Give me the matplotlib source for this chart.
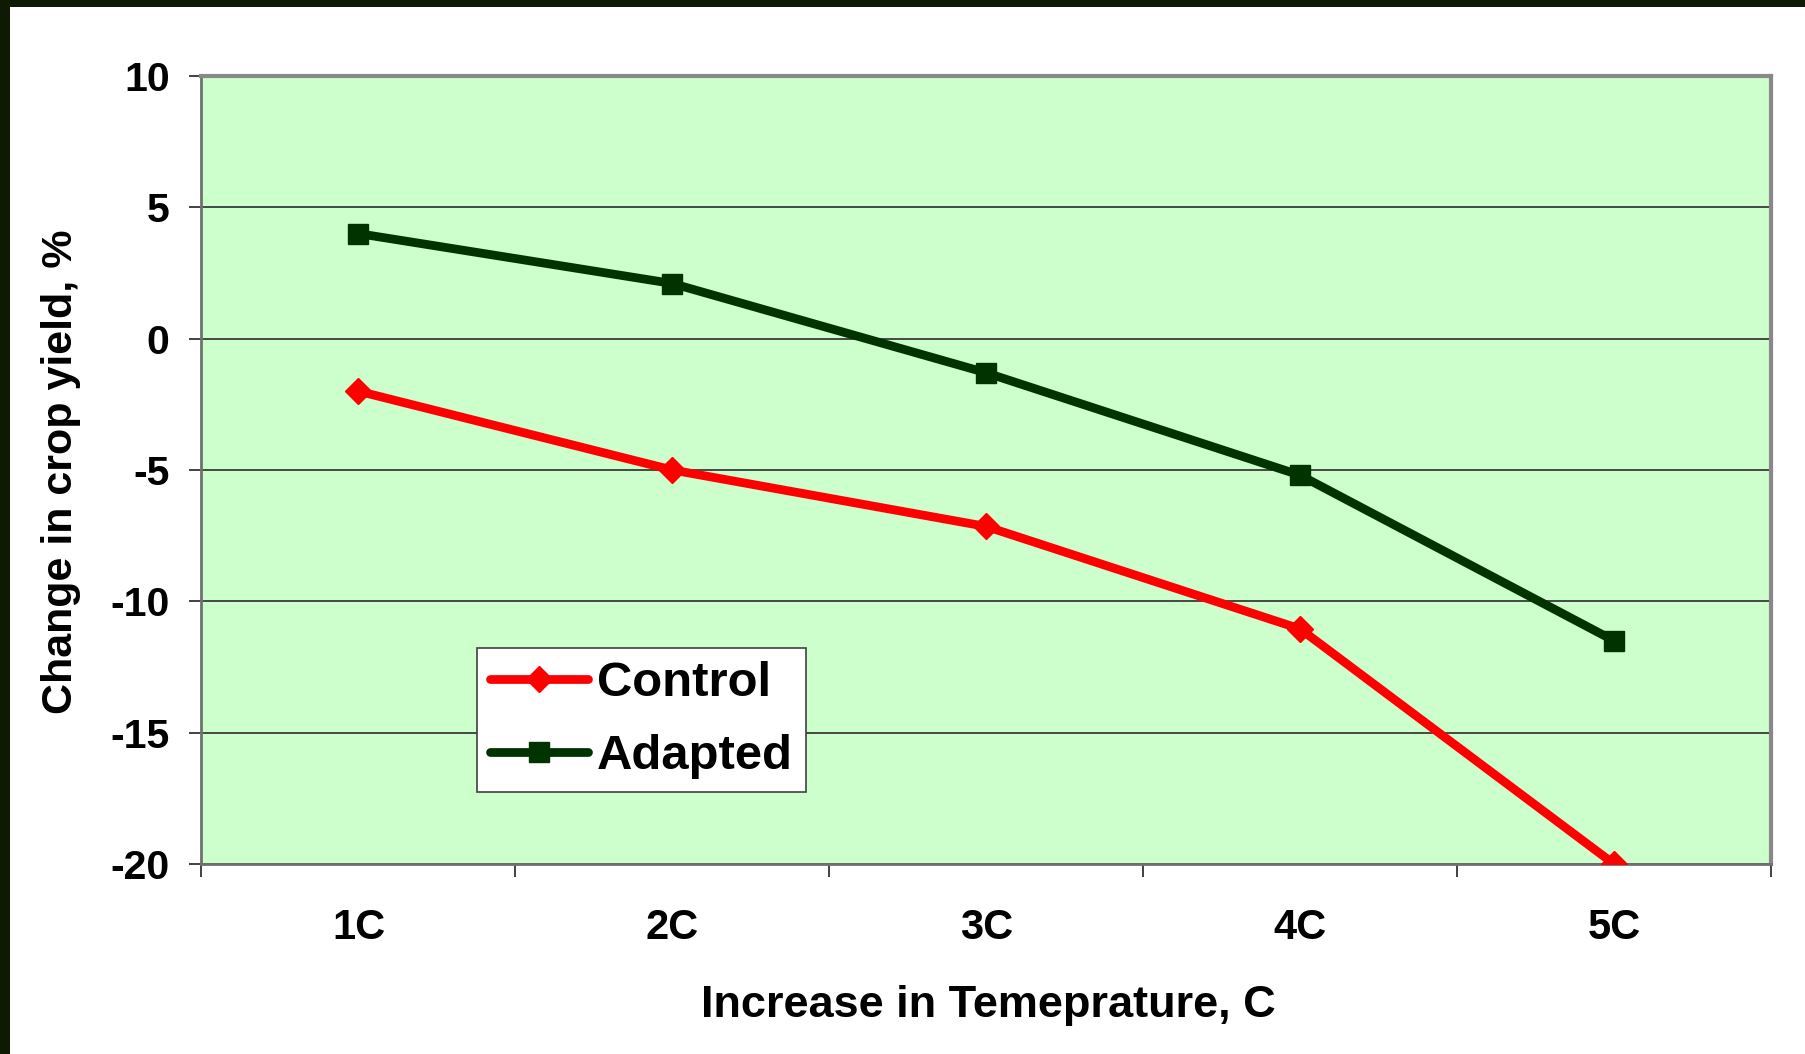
import matplotlib
matplotlib.use("Agg")
import matplotlib.pyplot as plt
from matplotlib.patches import Rectangle
import numpy as np

categories = ["1C", "2C", "3C", "4C", "5C"]
control = [-2.0, -5.0, -7.15, -11.05, -20.0]
adapted = [4.0, 2.1, -1.3, -5.2, -11.5]
yticks = [-20, -15, -10, -5, 0, 5, 10]

plt.rcParams['font.family'] = ['Liberation Sans', 'DejaVu Sans']
plt.rcParams['font.weight'] = 'bold'

W, H = 1806, 1054
fig = plt.figure(figsize=(W / 100, H / 100), dpi=100)
fig.patch.set_facecolor('white')

ax_l, ax_r, ax_t, ax_b = 201.5, 1771, 76, 864
ax = fig.add_axes([ax_l / W, 1 - ax_b / H, (ax_r - ax_l) / W, (ax_b - ax_t) / H])
ax.set_facecolor('#CCFFCC')

x = np.arange(len(categories))
ax.plot(x, control, color='#FF0000', lw=6.3, marker='D', markersize=13,
        label='Control', zorder=3, solid_joinstyle='round', solid_capstyle='round')
ax.plot(x, adapted, color='#003300', lw=6.3, marker='s', markersize=14,
        label='Adapted', zorder=3, solid_joinstyle='round', solid_capstyle='round')

ax.set_xlim(-0.5, len(categories) - 0.5)
ax.set_ylim(-20, 10)
ax.set_yticks(yticks)
ax.set_yticklabels([str(v) for v in yticks])
ax.set_xticks(x)
ax.set_xticklabels(categories)
ax.set_xticks(np.arange(-0.5, len(categories)), minor=True)

ax.yaxis.grid(True, color='#3a3a3a', lw=1.3)
ax.set_axisbelow(True)

ax.tick_params(axis='x', which='major', length=0, pad=32, labelsize=30)
ax.tick_params(axis='x', which='minor', length=9, width=1.2, color='#222222', direction='out')
ax.tick_params(axis='y', which='major', length=9, width=1.2, color='#222222',
               direction='out', pad=14, labelsize=29.5)
for lab in ax.get_xticklabels() + ax.get_yticklabels():
    lab.set_fontweight('bold')

for side in ['top', 'right']:
    ax.spines[side].set_color('#888888')
    ax.spines[side].set_linewidth(3)
for side in ['left', 'bottom']:
    ax.spines[side].set_color('#707070')
    ax.spines[side].set_linewidth(2)

fig.text(988 / W, 1 - 1006 / H, "Increase in Temeprature, C",
         ha='center', va='center', fontsize=32.5, fontweight='bold',
         family=['Liberation Sans Narrow', 'Liberation Sans'])
fig.text(61 / W, 1 - 472 / H, "Change in crop yield, %",
         ha='center', va='center', rotation=90, fontsize=31, fontweight='bold')

leg = ax.legend(loc='upper left', bbox_to_anchor=(0.1755, 0.274),
                fontsize=35.3, frameon=True, fancybox=False, shadow=False,
                borderpad=0.27, handlelength=2.0, handletextpad=0.18,
                labelspacing=0.56, borderaxespad=0)
leg.get_frame().set_edgecolor('#404040')
leg.get_frame().set_linewidth(1.2)
leg.get_frame().set_facecolor('white')
leg.get_frame().set_alpha(1)
for t in leg.get_texts():
    t.set_fontweight('bold')

# dark slide border
fig.patches.append(Rectangle((0, 0), 10 / W, 1, transform=fig.transFigure,
                             facecolor='#0f1a02', edgecolor='none', zorder=10))
fig.patches.append(Rectangle((0, 1 - 7 / H), 1, 7 / H, transform=fig.transFigure,
                             facecolor='#0f1a02', edgecolor='none', zorder=10))

fig.savefig('out.png', dpi=100)
